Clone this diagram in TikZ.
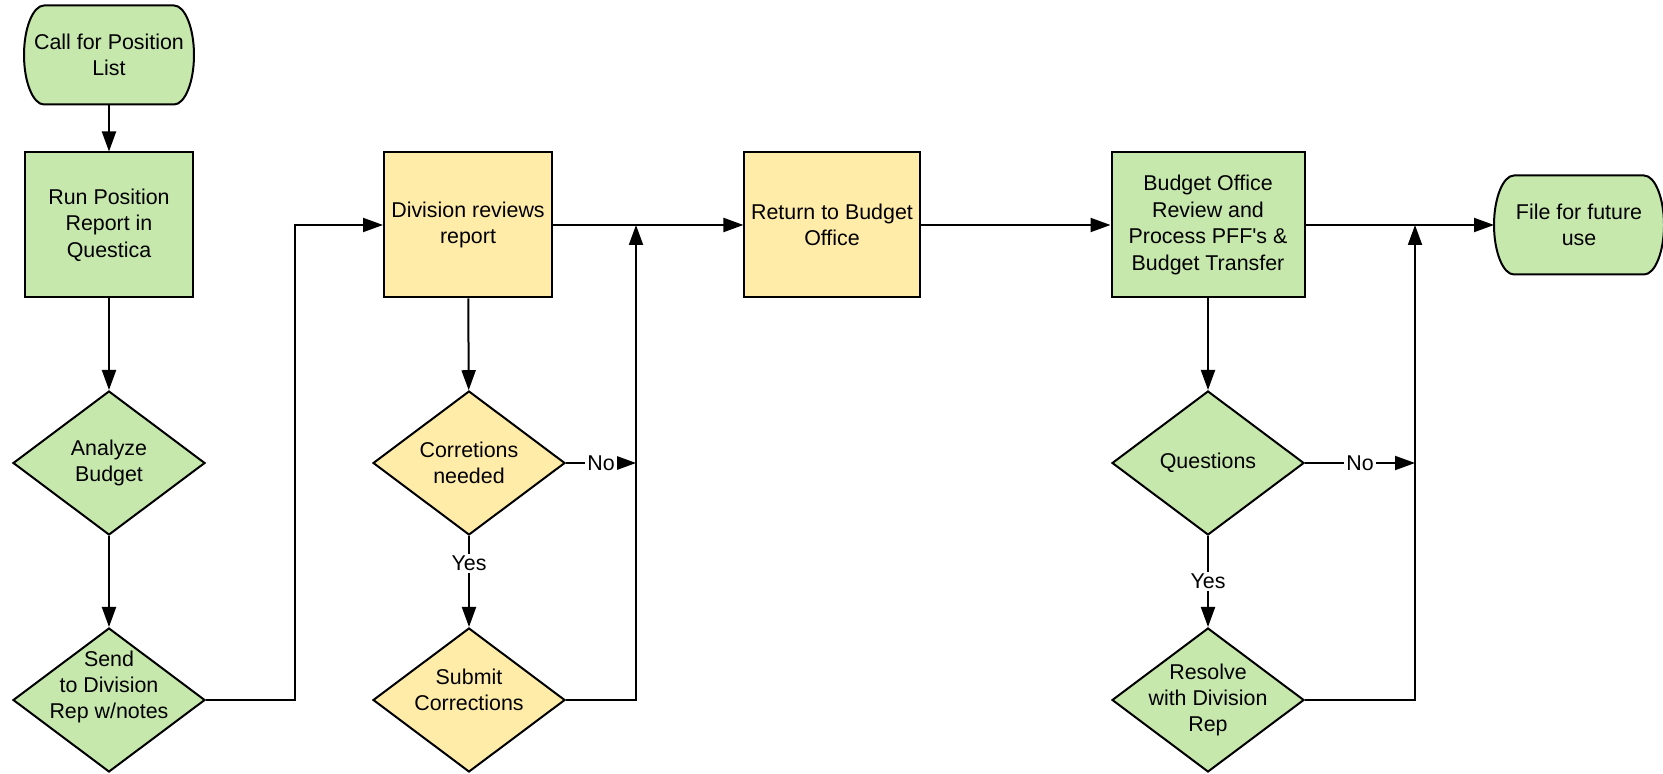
\documentclass[tikz,border=0pt]{standalone}
\usepackage{fontspec}
\setmainfont{Liberation Sans}
\usetikzlibrary{shapes.geometric,arrows.meta,backgrounds}
\definecolor{boxgreen}{RGB}{199,232,172}
\definecolor{boxyellow}{RGB}{255,236,169}
\tikzset{
  base/.style={line width=1pt, align=center, font=\fontsize{10.7}{13.2}\selectfont},
  terminal/.style={base, rectangle, minimum width=84pt, minimum height=48.5pt, inner sep=0pt},
  process/.style={base, draw, rectangle, minimum width=84pt, minimum height=72.5pt},
  decision/.style={base, draw, diamond, aspect=1.333, minimum width=96pt, minimum height=72pt, inner xsep=-8pt, inner ysep=-4pt},
  flow/.style={line width=1pt, -{Triangle[length=10pt,width=7pt]}},
  answer/.style={fill=white, inner sep=1pt, font=\fontsize{10.7}{13.2}\selectfont},
}
\newcommand\terminalshape[1]{%
  \draw[line width=1pt, fill=boxgreen]
    ([xshift=10pt]#1.north west) -- ([xshift=-10pt]#1.north east)
    .. controls ([xshift=-4.5pt]#1.north east) and ([yshift=13.4pt]#1.east) .. (#1.east)
    .. controls ([yshift=-13.4pt]#1.east) and ([xshift=-4.5pt]#1.south east) .. ([xshift=-10pt]#1.south east)
    -- ([xshift=10pt]#1.south west)
    .. controls ([xshift=4.5pt]#1.south west) and ([yshift=-13.4pt]#1.west) .. (#1.west)
    .. controls ([yshift=13.4pt]#1.west) and ([xshift=4.5pt]#1.north west) .. ([xshift=10pt]#1.north west)
    -- cycle;}
\begin{document}
\begin{tikzpicture}[x=0.5pt, y=-0.5pt]
\useasboundingbox (0,0) rectangle (1663,774);
\node[terminal] (call) at (109,55) {Call for Position\\List};
\node[process, fill=boxgreen] (run) at (109,225) {Run Position\\Report in\\Questica};
\node[decision, fill=boxgreen] (analyze) at (109,463) {Analyze\\Budget};
\node[decision, fill=boxgreen, inner ysep=-8pt] (send) at (109,700) {Send\\to Division\\Rep w/notes\\[-2pt]\strut};
\node[process, fill=boxyellow] (review) at (468,225) {Division reviews\\report};
\node[decision, fill=boxyellow] (needed) at (469,463) {Corretions\\needed};
\node[decision, fill=boxyellow] (submit) at (469,700) {Submit\\Corrections\\[-7pt]\strut};
\node[process, fill=boxyellow, minimum width=87.5pt] (back) at (832,225) {Return to Budget\\Office};
\node[process, fill=boxgreen, minimum width=96.5pt] (office) at (1208,225) {Budget Office\\Review and\\Process PFF\textquotesingle s \&\\Budget Transfer};
\node[decision, fill=boxgreen] (questions) at (1208,463) {Questions};
\node[decision, fill=boxgreen] (resolve) at (1208,700) {Resolve\\with Division\\Rep};
\node[terminal] (file) at (1579,225) {File for future\\use};
\begin{scope}[on background layer]
\terminalshape{call}
\terminalshape{file}
\end{scope}
\coordinate (turn) at (295,225);
\coordinate (join1) at (636,225);
\coordinate (join2) at (1415,225);
\draw[flow] (call) -- (run);
\draw[flow] (run) -- (analyze);
\draw[flow] (analyze) -- (send);
\draw[flow] (send.east) -| (turn) -- (review.west);
\draw[flow] (review) -- (needed);
\draw[flow] (needed) -- node[answer, pos=0.3] {Yes} (submit);
\draw[flow] (needed.east) -- node[answer] {No} (needed.east -| join1);
\draw[flow] (submit.east) -| (join1);
\draw[flow] (review) -- (back);
\draw[flow] (back) -- (office);
\draw[flow] (office) -- (questions);
\draw[flow] (questions) -- node[answer] {Yes} (resolve);
\draw[flow] (questions.east) -- node[answer] {No} (questions.east -| join2);
\draw[flow] (resolve.east) -| (join2);
\draw[flow] (office) -- (file);
\end{tikzpicture}
\end{document}
